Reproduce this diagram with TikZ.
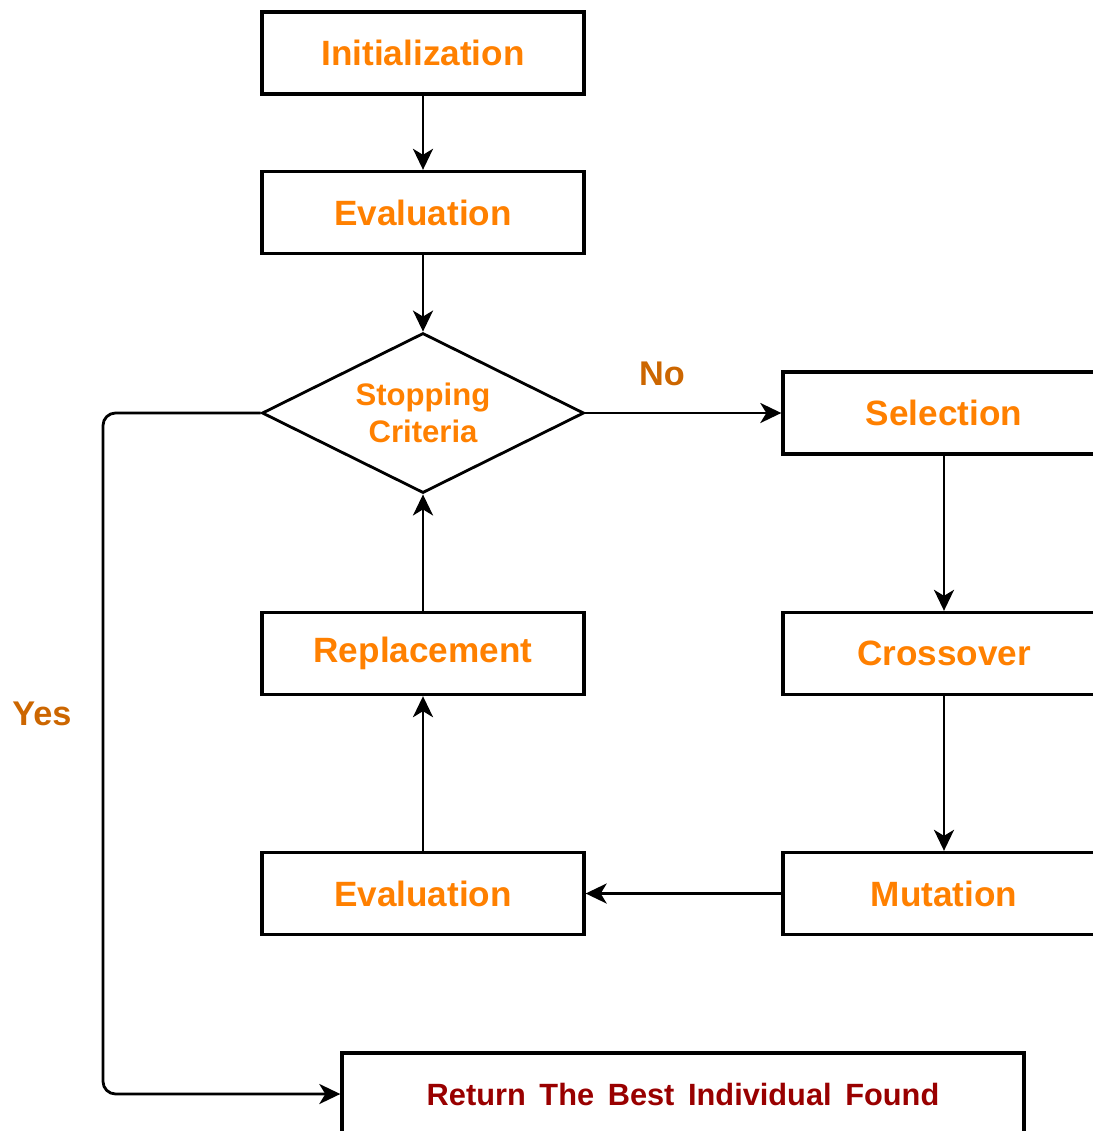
\documentclass[tikz,border=0pt]{standalone}
\usepackage{fontspec}
\setmainfont{Liberation Sans}
\usepackage{tikz}
\usetikzlibrary{shapes.geometric}
\usetikzlibrary{arrows.meta}
\definecolor{orange1}{RGB}{255,128,0}
\definecolor{orange2}{RGB}{204,102,0}
\definecolor{rouge1}{RGB}{153,0,0}

\begin{document}
\begin{tikzpicture}[
box/.style={draw, line width=1.9pt, minimum width=6.44cm, minimum height=1.64cm, inner sep=0pt, text=orange1, font=\fontsize{20}{24}\selectfont\bfseries},
test/.style={draw, diamond, shape aspect=2, line width=1.6pt, minimum width=6.44cm, minimum height=3.2cm, inner sep=0pt, text=orange1, align=center, font=\fontsize{17.7}{21}\selectfont\bfseries},
fleche/.style={line width=1.6pt, -{Stealth[length=0.42cm, width=0.4cm, inset=0.12cm]}},
rep/.style={text=orange2, font=\fontsize{19.5}{23}\selectfont\bfseries}]
\useasboundingbox (0,0) rectangle (21.86,-22.62);
\clip (0,0) rectangle (21.86,-22.62);

\node [box] (init) at (8.46,-1.06) {Initialization};
\node [box] (eval1) at (8.46,-4.25) {Evaluation};
\node [test] (stop) at (8.46,-8.26) {Stopping\\Criteria};
\node [box] (sel) at (18.88,-8.26) {Selection};
\node [box] (cross) at (18.88,-13.07) {Crossover};
\node [box] (mut) at (18.88,-17.87) {Mutation};
\node [box] (eval2) at (8.46,-17.87) {Evaluation};
\node [box] (repl) at (8.46,-13.07) {Replacement};
\node [box, minimum width=13.64cm, text=rouge1, font=\fontsize{17.5}{21}\selectfont\bfseries] (ret) at (13.66,-21.88) {Return\, The\, Best\, Individual\, Found};
\coordinate (coin) at (2.06,-8.26);

\draw [fleche] (init) -- (eval1);
\draw [fleche] (eval1) -- (stop);
\draw [fleche] (stop) -- (sel);
\draw [fleche] (sel) -- (cross);
\draw [fleche] (cross) -- (mut);
\draw [fleche] (mut) -- (eval2);
\draw [fleche] (eval2) -- (repl);
\draw [fleche] (repl) -- (stop);
\draw [fleche, rounded corners=0.25cm] (stop.west) -- (coin) |- (ret.west);

\node [rep] (non) at (13.24,-7.48) {No};
\node [rep] (oui) at (0.84,-14.28) {Yes};

\end{tikzpicture}
\end{document}
